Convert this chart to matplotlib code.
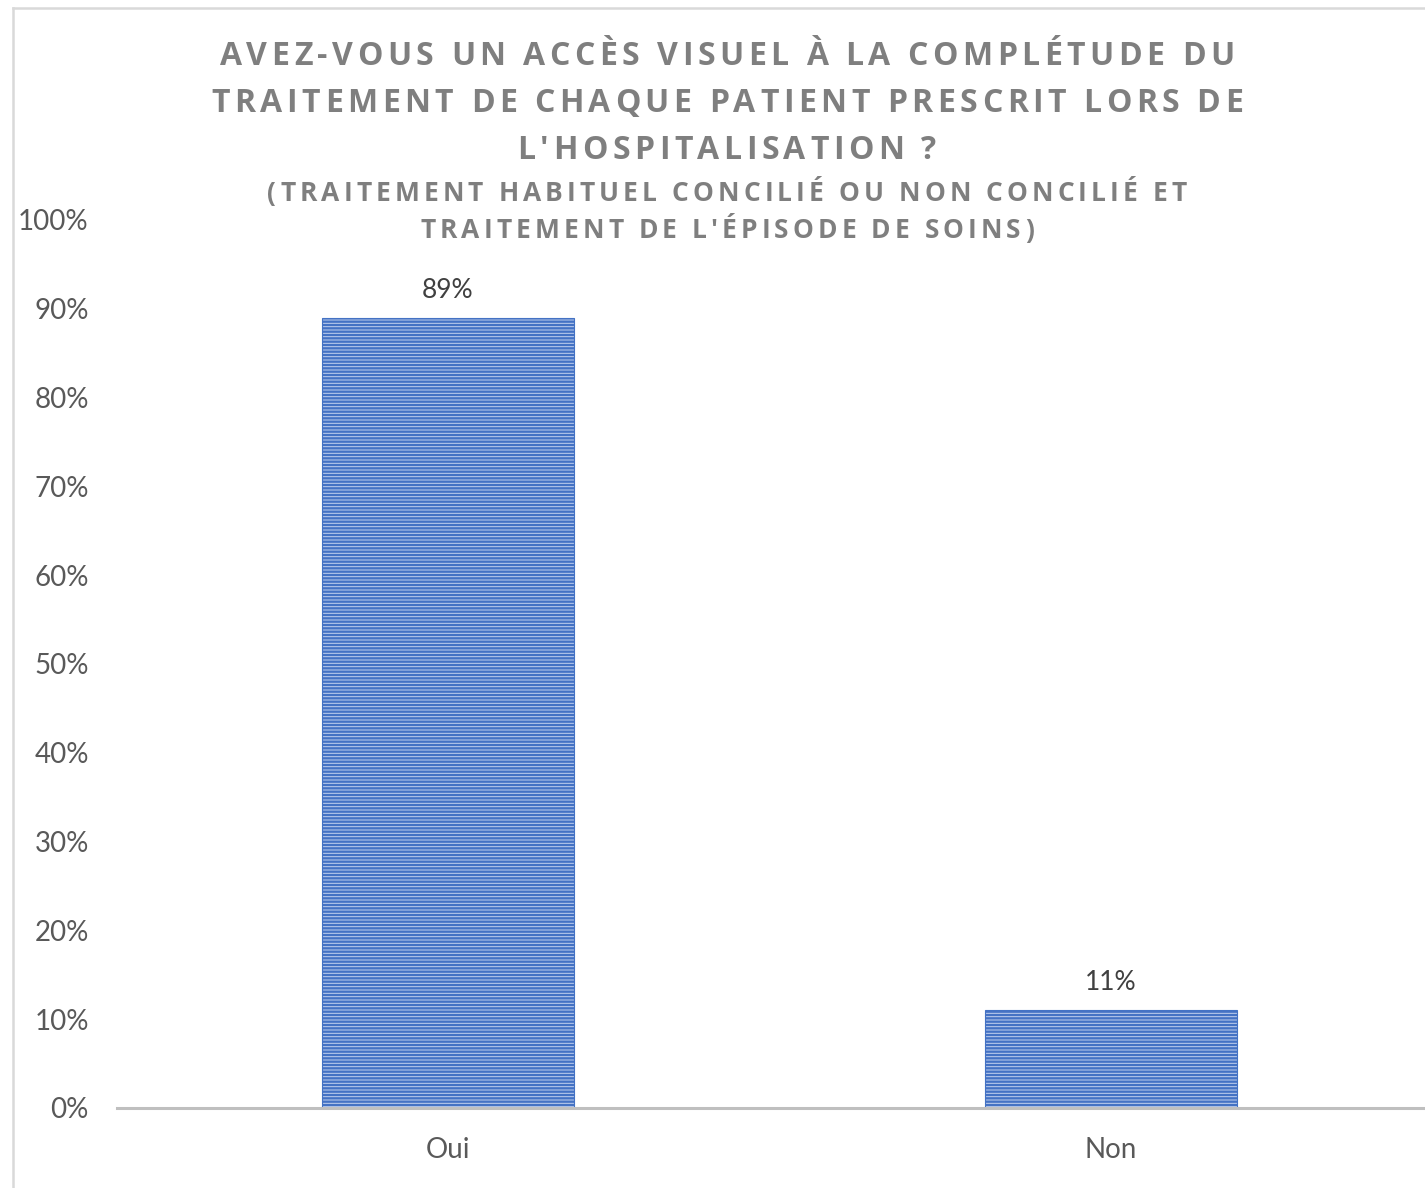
import matplotlib.pyplot as plt
from matplotlib.lines import Line2D

categories = ['Oui', 'Non']
values = [0.89, 0.11]
value_labels = ['89%', '11%']
y_ticks = [0, 0.1, 0.2, 0.3, 0.4, 0.5, 0.6, 0.7, 0.8, 0.9, 1.0]
y_tick_labels = ['0%', '10%', '20%', '30%', '40%', '50%', '60%', '70%', '80%', '90%', '100%']
title_lines = ["AVEZ-VOUS UN ACCÈS VISUEL À LA COMPLÉTUDE DU",
               "TRAITEMENT DE CHAQUE PATIENT PRESCRIT LORS DE",
               "L'HOSPITALISATION ?"]
subtitle_lines = ["(TRAITEMENT HABITUEL CONCILIÉ OU NON CONCILIÉ ET",
                  "TRAITEMENT DE L'ÉPISODE DE SOINS)"]

plt.rcParams['font.family'] = ['Lato', 'DejaVu Sans']
plt.rcParams['hatch.linewidth'] = 1.7

W, H = 1425, 1188
fig = plt.figure(figsize=(W / 100, H / 100), dpi=100)
ax = fig.add_axes([116.5 / W, 1 - 1108 / H, 1326 / W, 888 / H])

x = list(range(len(categories)))
ax.bar(x, values, width=0.38, color='#C2D1EE', edgecolor='#4472C4',
       linewidth=0.8, hatch='-' * 5)
for xi, v, lab in zip(x, values, value_labels):
    ax.text(xi, v + 0.017, lab, ha='center', va='bottom', fontsize=19, color='#404040')

ax.set_xlim(-0.5, 1.5)
ax.set_ylim(0, 1.0)
ax.set_yticks(y_ticks)
ax.set_yticklabels(y_tick_labels)
ax.set_xticks(x)
ax.set_xticklabels(categories)
ax.tick_params(axis='y', length=0, pad=20, labelsize=20, labelcolor='#595959')
ax.tick_params(axis='x', length=0, pad=21, labelsize=20, labelcolor='#595959')
for s in ['top', 'right', 'left']:
    ax.spines[s].set_visible(False)
ax.spines['bottom'].set_color('#BFBFBF')
ax.spines['bottom'].set_linewidth(2.2)


def spaced_text(xc, y, text, size, gap):
    # one line of bold text with extra letter spacing, centred on xc (pixels), baseline y
    r = fig.canvas.get_renderer()
    parts = []
    total = 0
    for ch in text:
        t = fig.text(0, 0, ch, fontsize=size, fontweight='bold', color='#7F7F7F',
                     family=['Open Sans', 'DejaVu Sans'], va='baseline', ha='left')
        if ch == ' ':
            w = size * 100 / 72 * 0.26
        else:
            w = t.get_window_extent(r).width
        parts.append((t, w))
        total += w + gap
    total -= gap
    xpos = xc - total / 2
    for t, w in parts:
        t.set_position((xpos / W, 1 - y / H))
        xpos += w + gap


for y, t in zip([65, 112, 159], title_lines):
    spaced_text(727, y, t, 23, 4.5)
for y, t in zip([201, 238], subtitle_lines):
    spaced_text(727, y, t, 19, 4.1)

# chart frame
fig.add_artist(Line2D([13 / W, 1.0], [1 - 8 / H, 1 - 8 / H], color='#D9D9D9', lw=1.8))
fig.add_artist(Line2D([13 / W, 13 / W], [0, 1 - 8 / H], color='#D9D9D9', lw=1.8))

fig.savefig('out.png', dpi=100)
